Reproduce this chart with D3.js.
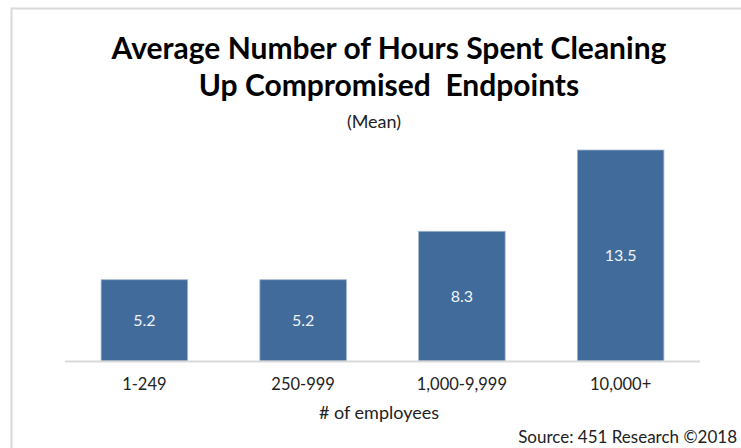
<!DOCTYPE html>
<html>
<head>
<meta charset="utf-8">
<script src="https://cdn.jsdelivr.net/npm/d3@7/dist/d3.min.js"></script>
<style>
  html, body { margin: 0; padding: 0; background: #fff; }
  svg { display: block; }
  text { font-family: Lato, "Open Sans", sans-serif; }
</style>
</head>
<body>
<svg id="chart" width="741" height="448"></svg>
<script>
// Employee-size bands and mean hours spent cleaning up compromised endpoints
const categories = ["1-249", "250-999", "1,000-9,999", "10,000+"];
const hours = [5.2, 5.2, 8.3, 13.5];
const titleLines = ["Average Number of Hours Spent Cleaning", "Up Compromised  Endpoints"];
const subtitle = "(Mean)";
const xAxisTitle = "# of employees";
const sourceNote = "Source: 451 Research \u00A92018";

const svg = d3.select("#chart");
const W = 741, H = 448;

// light frame along the top and left
svg.append("path")
  .attr("d", `M11.5,${H} V8.5 H${W}`)
  .attr("fill", "none")
  .attr("stroke", "#d9d9d9")
  .attr("stroke-width", 2);

const plot = { left: 65, right: 700, top: 150, bottom: 361 };

const x = d3.scaleBand()
  .domain(categories)
  .range([plot.left, plot.right])
  .paddingInner(0.455)
  .paddingOuter(0.2275);

const y = d3.scaleLinear()
  .domain([0, 13.5])
  .range([plot.bottom, plot.top]);

// title
svg.append("g")
  .selectAll("text")
  .data(titleLines)
  .join("text")
  .attr("x", 389)
  .attr("y", (d, i) => 59 + i * 37)
  .attr("text-anchor", "middle")
  .attr("font-size", 30)
  .attr("font-weight", 700)
  .attr("fill", "#000")
  .style("white-space", "pre")
  .text(d => d);

svg.append("text")
  .attr("x", 374)
  .attr("y", 128)
  .attr("text-anchor", "middle")
  .attr("font-size", 18)
  .attr("fill", "#222")
  .text(subtitle);

// bars
svg.append("g")
  .selectAll("rect")
  .data(hours)
  .join("rect")
  .attr("x", (d, i) => x(categories[i]))
  .attr("y", d => y(d))
  .attr("width", x.bandwidth())
  .attr("height", d => y(0) - y(d))
  .attr("fill", "#416b9a")
  .attr("stroke", "#9fb6cf")
  .attr("stroke-width", 0.8);

// value labels in the middle of each bar
svg.append("g")
  .selectAll("text")
  .data(hours)
  .join("text")
  .attr("x", (d, i) => x(categories[i]) + x.bandwidth() / 2)
  .attr("y", d => (y(d) + y(0)) / 2)
  .attr("dy", "0.35em")
  .attr("text-anchor", "middle")
  .attr("font-size", 16)
  .attr("fill", "#f0f4f8")
  .text(d => d.toFixed(1));

// category axis
const axis = svg.append("g")
  .attr("transform", `translate(0,${plot.bottom})`)
  .call(d3.axisBottom(x).tickSize(0).tickPadding(17));
axis.select(".domain")
  .attr("d", `M${plot.left},0.5H${plot.right}`)
  .attr("stroke", "#d9d9d9")
  .attr("stroke-width", 2);
axis.selectAll(".tick text")
  .attr("font-family", "Lato, 'Open Sans', sans-serif")
  .attr("font-size", 16.5)
  .attr("fill", "#222");

svg.append("text")
  .attr("x", 379)
  .attr("y", 419)
  .attr("text-anchor", "middle")
  .attr("font-size", 18)
  .attr("fill", "#222")
  .text(xAxisTitle);

svg.append("text")
  .attr("x", 737)
  .attr("y", 443)
  .attr("text-anchor", "end")
  .attr("font-size", 17)
  .attr("fill", "#222")
  .text(sourceNote);
</script>
</body>
</html>
